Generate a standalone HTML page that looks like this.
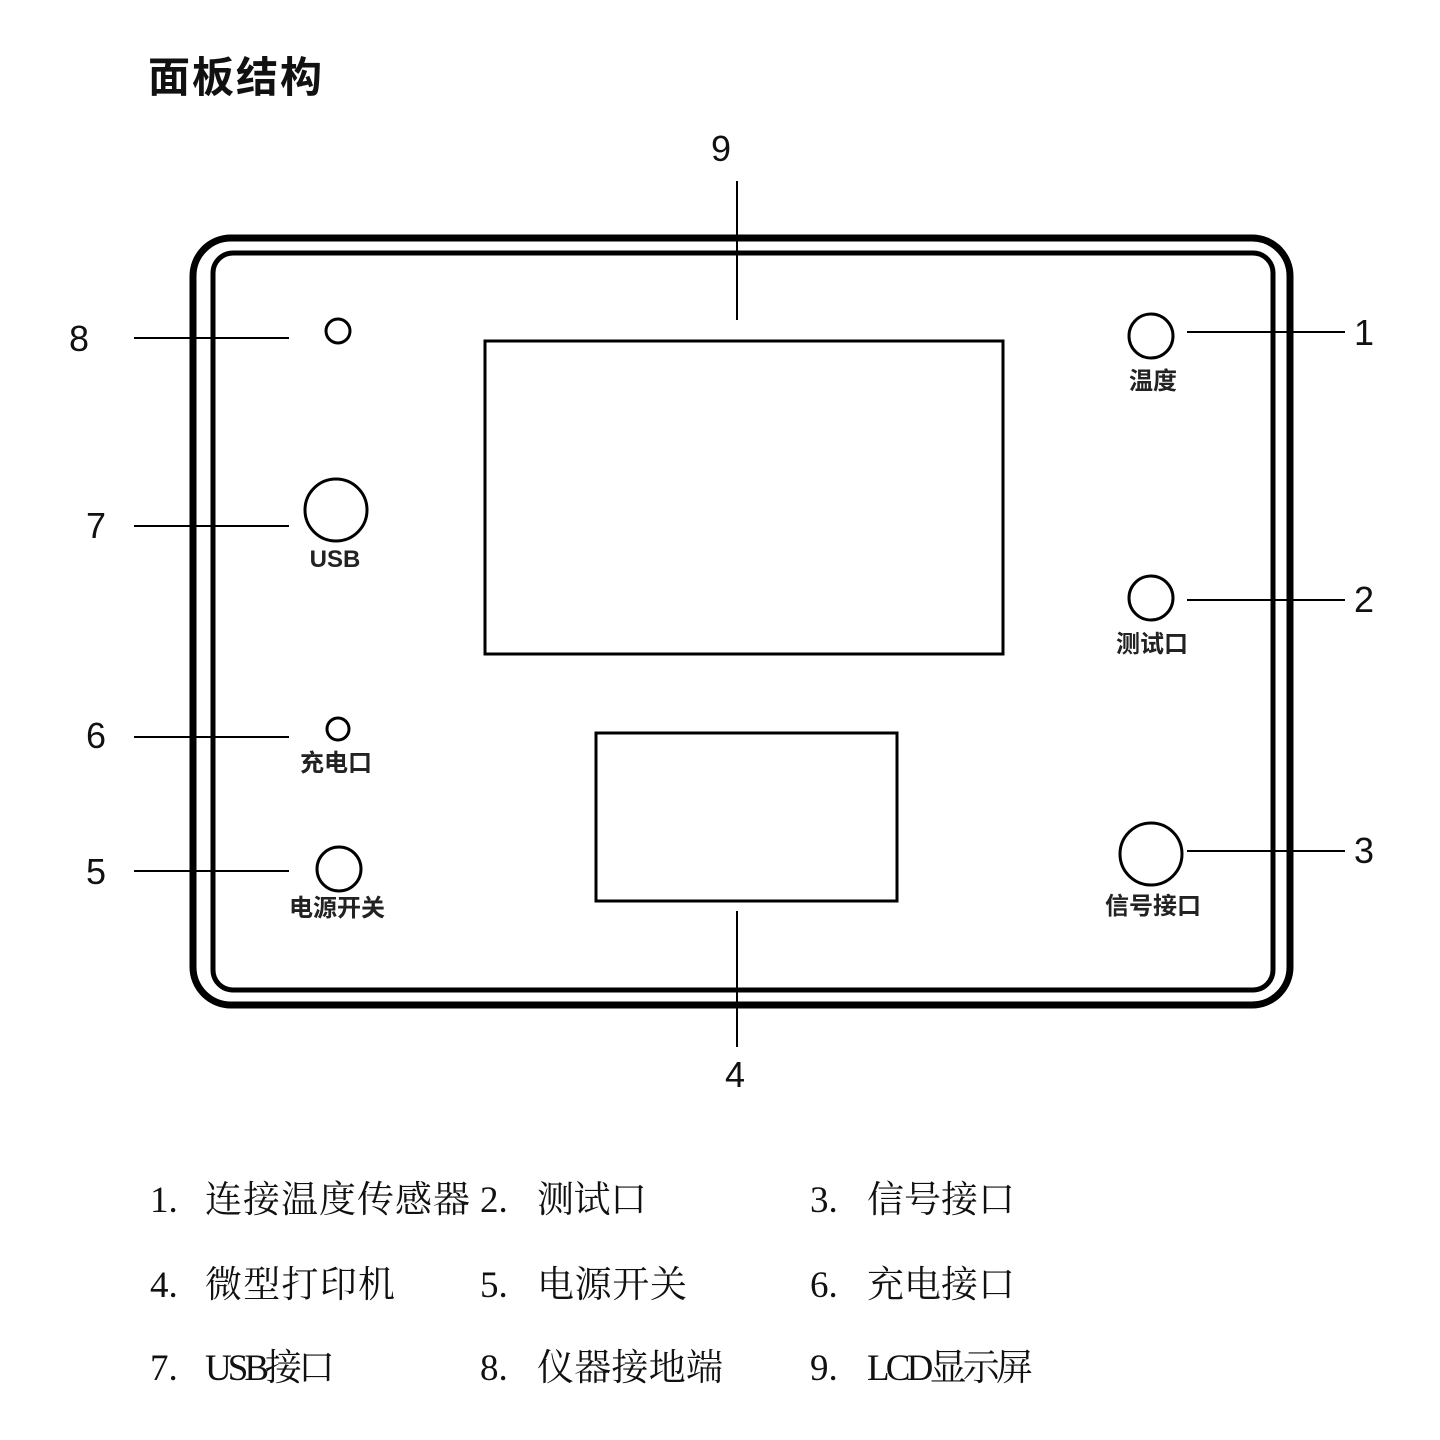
<!DOCTYPE html>
<html><head><meta charset="utf-8"><style>
html,body{margin:0;padding:0;background:#fff;}
svg{display:block;}
.c{font-family:"Liberation Sans","Noto Sans CJK SC",sans-serif;}
.n{font-family:"Liberation Sans",sans-serif;font-size:36px;fill:#111;}
.s{font-family:"Liberation Sans","Noto Sans CJK SC",sans-serif;font-size:24px;fill:#222;text-anchor:middle;font-weight:bold;}
.l{font-family:"Liberation Serif","Noto Serif CJK SC",serif;font-size:37px;fill:#111;}
</style></head><body>
<svg width="1440" height="1440" viewBox="0 0 1440 1440" xmlns="http://www.w3.org/2000/svg">
<rect width="1440" height="1440" fill="#fff"/>
<text x="148" y="92" class="c" font-size="42" font-weight="bold" fill="#111" textLength="174">面板结构</text>
<g fill="none" stroke="#000">
<rect x="193" y="238" width="1097" height="767" rx="38" stroke-width="7"/>
<rect x="213" y="253" width="1060" height="737" rx="20" stroke-width="5"/>
<rect x="485" y="341" width="518" height="313" stroke-width="3"/>
<rect x="596" y="733" width="301" height="168" stroke-width="3"/>
<g stroke-width="2">
<line x1="737" y1="181" x2="737" y2="320"/>
<line x1="737" y1="911" x2="737" y2="1047"/>
<line x1="134" y1="338" x2="289" y2="338"/>
<line x1="134" y1="526" x2="289" y2="526"/>
<line x1="134" y1="737" x2="289" y2="737"/>
<line x1="134" y1="871" x2="289" y2="871"/>
<line x1="1187" y1="332" x2="1345" y2="332"/>
<line x1="1187" y1="600" x2="1345" y2="600"/>
<line x1="1187" y1="851" x2="1345" y2="851"/>
</g>
<g stroke-width="3">
<circle cx="338" cy="331" r="12"/>
<circle cx="336" cy="510" r="31"/>
<circle cx="338" cy="729" r="11"/>
<circle cx="339" cy="869" r="22"/>
<circle cx="1151" cy="336" r="22"/>
<circle cx="1151" cy="598" r="22"/>
<circle cx="1151" cy="854" r="31"/>
</g>
</g>
<text x="711" y="161" class="n">9</text>
<text x="725" y="1087" class="n">4</text>
<text x="69" y="351" class="n">8</text>
<text x="86" y="538" class="n">7</text>
<text x="86" y="748" class="n">6</text>
<text x="86" y="884" class="n">5</text>
<text x="1354" y="345" class="n">1</text>
<text x="1354" y="612" class="n">2</text>
<text x="1354" y="863" class="n">3</text>
<text x="335" y="567" class="s">USB</text>
<text x="336" y="771" class="s">充电口</text>
<text x="337" y="916" class="s">电源开关</text>
<text x="1153" y="389" class="s">温度</text>
<text x="1152" y="652" class="s">测试口</text>
<text x="1153" y="914" class="s">信号接口</text>
<g class="l">
<text x="150" y="1212">1.</text><text x="205" y="1212" textLength="265">连接温度传感器</text>
<text x="480" y="1212">2.</text><text x="537" y="1212" textLength="110">测试口</text>
<text x="810" y="1212">3.</text><text x="867" y="1212" textLength="148">信号接口</text>
<text x="150" y="1297">4.</text><text x="205" y="1297" textLength="190">微型打印机</text>
<text x="480" y="1297">5.</text><text x="537" y="1297" textLength="150">电源开关</text>
<text x="810" y="1297">6.</text><text x="867" y="1297" textLength="148">充电接口</text>
<text x="150" y="1380">7.</text><text x="205" y="1380" textLength="130">USB接口</text>
<text x="480" y="1380">8.</text><text x="537" y="1380" textLength="186">仪器接地端</text>
<text x="810" y="1380">9.</text><text x="867" y="1380" textLength="166">LCD显示屏</text>
</g>
</svg>
</body></html>
